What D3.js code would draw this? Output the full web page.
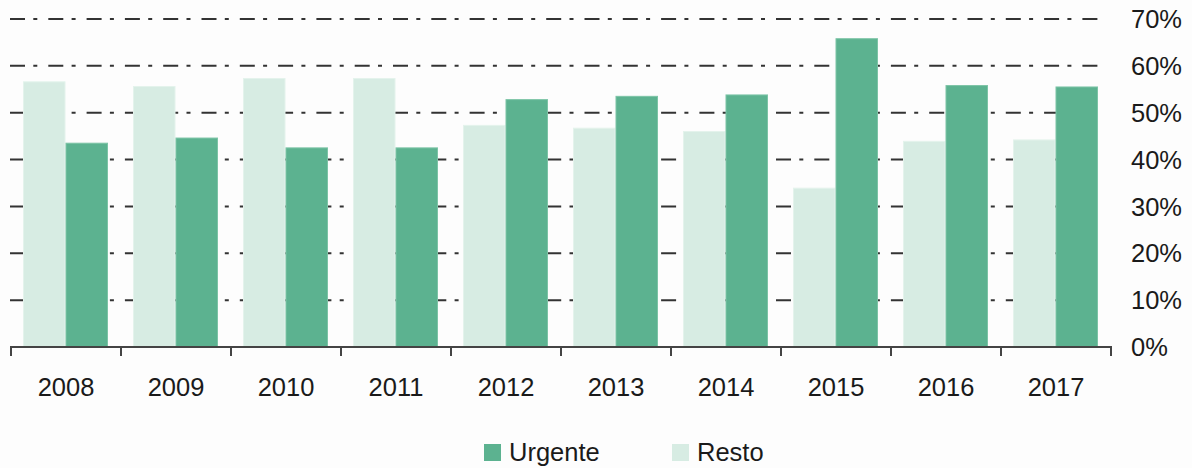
<!DOCTYPE html>
<html>
<head>
<meta charset="utf-8">
<script src="https://cdn.jsdelivr.net/npm/d3@7"></script>
<style>
  html, body { margin: 0; padding: 0; background: #fff; }
  svg { display: block; }
  text { font-family: "Liberation Sans", Arial, sans-serif; fill: #1a1a1a; }
</style>
</head>
<body>
<svg id="chart" width="1192" height="468"></svg>
<script>
const years = ["2008","2009","2010","2011","2012","2013","2014","2015","2016","2017"];
const resto = [56.7, 55.7, 57.4, 57.4, 47.4, 46.8, 46.1, 34.0, 44.0, 44.3];
const urgente = [43.6, 44.7, 42.6, 42.6, 52.9, 53.6, 53.9, 65.9, 55.9, 55.6];
const seriesNames = ["Resto", "Urgente"];
const legendNames = ["Urgente", "Resto"];
const yTicks = [0, 10, 20, 30, 40, 50, 60, 70];

const colors = { Urgente: "#5cb290", Resto: "#d7ece3" };
const strokes = { Urgente: "#7cc4a6", Resto: "#e4f3ec" };

const svg = d3.select("#chart");
const W = 1192, H = 468;
svg.append("rect").attr("width", W).attr("height", H).attr("fill", "#fdfdfd");

const x0 = d3.scaleBand().domain(years).range([11, 1111]).padding(0);
const x1 = d3.scaleBand().domain(seriesNames).range([12, 97]).padding(0);
const y = d3.scaleLinear().domain([0, 70]).range([347, 19]);

// gridlines
svg.append("g").selectAll("line")
  .data(yTicks.filter(d => d > 0))
  .join("line")
  .attr("x1", 10).attr("x2", 1100)
  .attr("y1", d => y(d)).attr("y2", d => y(d))
  .attr("stroke", "#333")
  .attr("stroke-width", 2)
  .attr("stroke-dasharray", "15,8.3,4,11");

// bars
const data = years.map((yr, i) => ({ year: yr, Resto: resto[i], Urgente: urgente[i] }));
const groups = svg.append("g").selectAll("g")
  .data(data).join("g")
  .attr("transform", d => `translate(${x0(d.year)},0)`);
groups.selectAll("rect")
  .data(d => seriesNames.map(k => ({ key: k, value: d[k] })))
  .join("rect")
  .attr("x", d => x1(d.key) + 0.5)
  .attr("width", x1.bandwidth() - 1)
  .attr("y", d => y(d.value) + 0.5)
  .attr("height", d => y(0) - y(d.value) - 0.5)
  .attr("fill", d => colors[d.key])
  .attr("stroke", d => strokes[d.key])
  .attr("stroke-width", 1);

// x axis
const xAxisG = svg.append("g").attr("transform", `translate(0,${y(0)})`);
xAxisG.append("line").attr("x1", 10).attr("x2", 1112).attr("y1", 0).attr("y2", 0)
  .attr("stroke", "#444").attr("stroke-width", 2);
const tickPos = years.map(d => x0(d)).concat([x0.range()[1]]);
xAxisG.selectAll("line.tk").data(tickPos).join("line").attr("class", "tk")
  .attr("x1", d => d).attr("x2", d => d).attr("y1", 0).attr("y2", 9)
  .attr("stroke", "#444").attr("stroke-width", 2);
xAxisG.selectAll("text").data(years).join("text")
  .attr("x", d => x0(d) + x0.bandwidth() / 2)
  .attr("y", 49)
  .attr("text-anchor", "middle")
  .attr("font-size", 25.5)
  .text(d => d);

// y labels (right)
svg.append("g").selectAll("text").data(yTicks).join("text")
  .attr("x", 1131)
  .attr("y", d => y(d))
  .attr("dy", "0.36em")
  .attr("font-size", 25.5)
  .text(d => d + "%");

// legend
const legendX = { Urgente: 484, Resto: 672 };
const lg = svg.append("g");
lg.selectAll("rect").data(legendNames).join("rect")
  .attr("x", d => legendX[d]).attr("y", 444)
  .attr("width", 17).attr("height", 17)
  .attr("fill", d => colors[d]);
lg.selectAll("text").data(legendNames).join("text")
  .attr("x", d => legendX[d] + 25).attr("y", 461)
  .attr("font-size", 25.5)
  .text(d => d);
</script>
</body>
</html>
